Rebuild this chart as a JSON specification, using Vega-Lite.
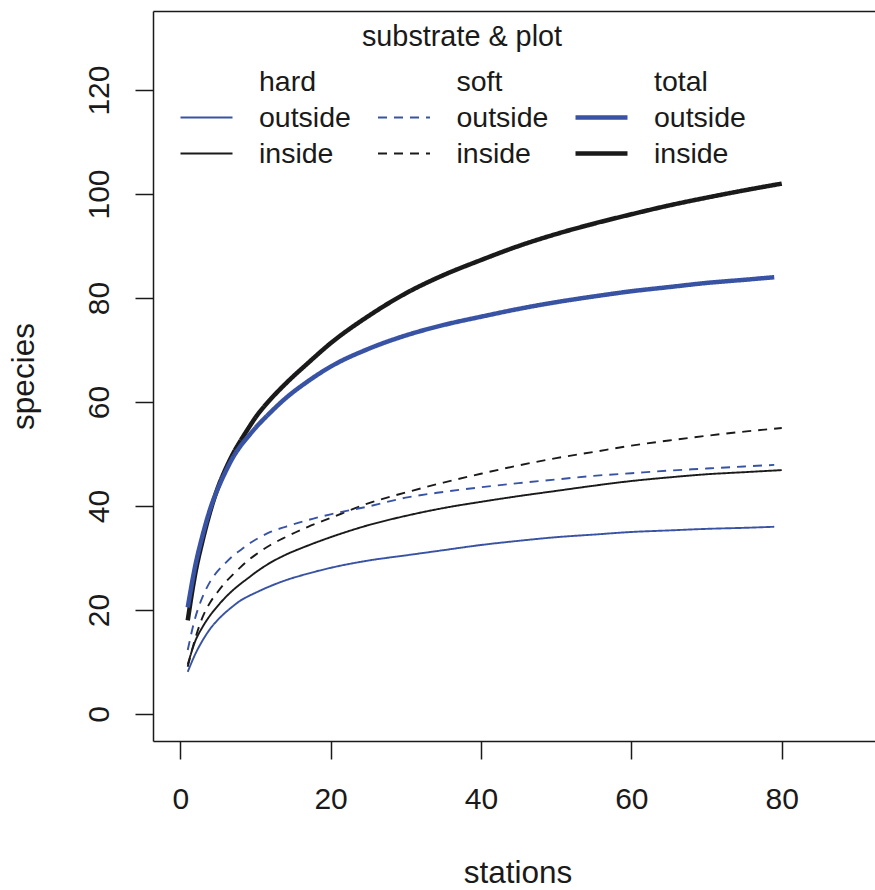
{
 "$schema": "https://vega.github.io/schema/vega-lite/v6.json",
 "width": 722,
 "height": 730,
 "autosize": {"type": "none"},
 "padding": {"left": 153, "top": 11, "right": 0, "bottom": 149},
 "background": "white",
 "config": {
  "view": {"stroke": null},
  "font": "Liberation Sans",
  "legend": {
   "orient": "none", "legendX": 25, "legendY": 12, "columns": 3, "columnPadding": 24.5, "rowPadding": 0,
   "clipHeight": 35.5, "symbolSize": 2704, "symbolType": "stroke", "labelOffset": 24,
   "labelFontSize": 28.5, "labelFont": "Liberation Sans", "labelColor": "#1a1a1a", "labelLimit": 0,
   "titleFontSize": 28.8, "titleFont": "Liberation Sans", "titleFontWeight": "normal", "titleColor": "#1a1a1a",
   "titleAnchor": "middle", "titlePadding": 12, "padding": 0, "titleLimit": 0
  }
 },
 "data": {"values": [
  {"stations":1,"species":18,"series":"total inside"},{"stations":2,"species":27,"series":"total inside"},{"stations":3,"species":33.5,"series":"total inside"},{"stations":4,"species":39,"series":"total inside"},{"stations":5,"species":43.5,"series":"total inside"},{"stations":6,"species":47,"series":"total inside"},{"stations":7,"species":50,"series":"total inside"},{"stations":8,"species":52.5,"series":"total inside"},{"stations":9,"species":54.8,"series":"total inside"},{"stations":10,"species":57,"series":"total inside"},{"stations":12,"species":60.5,"series":"total inside"},{"stations":14,"species":63.5,"series":"total inside"},{"stations":17,"species":67.5,"series":"total inside"},{"stations":20,"species":71.3,"series":"total inside"},{"stations":25,"species":76.5,"series":"total inside"},{"stations":30,"species":80.9,"series":"total inside"},{"stations":35,"species":84.4,"series":"total inside"},{"stations":40,"species":87.3,"series":"total inside"},{"stations":45,"species":90,"series":"total inside"},{"stations":50,"species":92.3,"series":"total inside"},{"stations":55,"species":94.3,"series":"total inside"},{"stations":60,"species":96.1,"series":"total inside"},{"stations":65,"species":97.8,"series":"total inside"},{"stations":70,"species":99.3,"series":"total inside"},{"stations":75,"species":100.7,"series":"total inside"},{"stations":80,"species":102,"series":"total inside"},
  {"stations":1,"species":20.5,"series":"total outside"},{"stations":2,"species":28.5,"series":"total outside"},{"stations":3,"species":34.5,"series":"total outside"},{"stations":4,"species":39.5,"series":"total outside"},{"stations":5,"species":43.3,"series":"total outside"},{"stations":6,"species":46.5,"series":"total outside"},{"stations":7,"species":49.3,"series":"total outside"},{"stations":8,"species":51.5,"series":"total outside"},{"stations":9,"species":53.3,"series":"total outside"},{"stations":10,"species":55,"series":"total outside"},{"stations":12,"species":58,"series":"total outside"},{"stations":14,"species":60.7,"series":"total outside"},{"stations":17,"species":64,"series":"total outside"},{"stations":20,"species":66.8,"series":"total outside"},{"stations":25,"species":70.2,"series":"total outside"},{"stations":30,"species":72.8,"series":"total outside"},{"stations":35,"species":74.8,"series":"total outside"},{"stations":40,"species":76.4,"series":"total outside"},{"stations":45,"species":77.9,"series":"total outside"},{"stations":50,"species":79.2,"series":"total outside"},{"stations":55,"species":80.3,"series":"total outside"},{"stations":60,"species":81.3,"series":"total outside"},{"stations":65,"species":82.1,"series":"total outside"},{"stations":70,"species":82.9,"series":"total outside"},{"stations":75,"species":83.5,"series":"total outside"},{"stations":79,"species":84,"series":"total outside"},
  {"stations":1,"species":9.1,"series":"soft inside"},{"stations":2,"species":14.5,"series":"soft inside"},{"stations":3,"species":18.7,"series":"soft inside"},{"stations":4,"species":21.5,"series":"soft inside"},{"stations":5,"species":23.5,"series":"soft inside"},{"stations":6,"species":25.3,"series":"soft inside"},{"stations":7,"species":26.8,"series":"soft inside"},{"stations":8,"species":28.2,"series":"soft inside"},{"stations":9,"species":29.5,"series":"soft inside"},{"stations":10,"species":30.6,"series":"soft inside"},{"stations":12,"species":32.5,"series":"soft inside"},{"stations":14,"species":34,"series":"soft inside"},{"stations":17,"species":36,"series":"soft inside"},{"stations":20,"species":37.7,"series":"soft inside"},{"stations":25,"species":40.5,"series":"soft inside"},{"stations":30,"species":42.6,"series":"soft inside"},{"stations":35,"species":44.5,"series":"soft inside"},{"stations":40,"species":46.2,"series":"soft inside"},{"stations":45,"species":47.8,"series":"soft inside"},{"stations":50,"species":49.2,"series":"soft inside"},{"stations":55,"species":50.4,"series":"soft inside"},{"stations":60,"species":51.6,"series":"soft inside"},{"stations":65,"species":52.6,"series":"soft inside"},{"stations":70,"species":53.5,"series":"soft inside"},{"stations":75,"species":54.3,"series":"soft inside"},{"stations":80,"species":55,"series":"soft inside"},
  {"stations":1,"species":12.3,"series":"soft outside"},{"stations":2,"species":18.5,"series":"soft outside"},{"stations":3,"species":22.6,"series":"soft outside"},{"stations":4,"species":25.5,"series":"soft outside"},{"stations":5,"species":27.5,"series":"soft outside"},{"stations":6,"species":29,"series":"soft outside"},{"stations":7,"species":30.4,"series":"soft outside"},{"stations":8,"species":31.5,"series":"soft outside"},{"stations":9,"species":32.6,"series":"soft outside"},{"stations":10,"species":33.5,"series":"soft outside"},{"stations":12,"species":35,"series":"soft outside"},{"stations":14,"species":36,"series":"soft outside"},{"stations":17,"species":37.3,"series":"soft outside"},{"stations":20,"species":38.4,"series":"soft outside"},{"stations":25,"species":39.9,"series":"soft outside"},{"stations":30,"species":41.6,"series":"soft outside"},{"stations":35,"species":42.7,"series":"soft outside"},{"stations":40,"species":43.6,"series":"soft outside"},{"stations":45,"species":44.4,"series":"soft outside"},{"stations":50,"species":45.1,"series":"soft outside"},{"stations":55,"species":45.8,"series":"soft outside"},{"stations":60,"species":46.3,"series":"soft outside"},{"stations":65,"species":46.8,"series":"soft outside"},{"stations":70,"species":47.2,"series":"soft outside"},{"stations":75,"species":47.6,"series":"soft outside"},{"stations":79,"species":47.9,"series":"soft outside"},
  {"stations":1,"species":9.5,"series":"hard inside"},{"stations":2,"species":14,"series":"hard inside"},{"stations":3,"species":16.8,"series":"hard inside"},{"stations":4,"species":19,"series":"hard inside"},{"stations":5,"species":20.8,"series":"hard inside"},{"stations":6,"species":22.4,"series":"hard inside"},{"stations":7,"species":23.8,"series":"hard inside"},{"stations":8,"species":25,"series":"hard inside"},{"stations":9,"species":26.1,"series":"hard inside"},{"stations":10,"species":27.2,"series":"hard inside"},{"stations":12,"species":29.1,"series":"hard inside"},{"stations":14,"species":30.6,"series":"hard inside"},{"stations":17,"species":32.4,"series":"hard inside"},{"stations":20,"species":34,"series":"hard inside"},{"stations":25,"species":36.3,"series":"hard inside"},{"stations":30,"species":38.1,"series":"hard inside"},{"stations":35,"species":39.6,"series":"hard inside"},{"stations":40,"species":40.8,"series":"hard inside"},{"stations":45,"species":41.9,"series":"hard inside"},{"stations":50,"species":42.9,"series":"hard inside"},{"stations":55,"species":43.9,"series":"hard inside"},{"stations":60,"species":44.8,"series":"hard inside"},{"stations":65,"species":45.5,"series":"hard inside"},{"stations":70,"species":46.1,"series":"hard inside"},{"stations":75,"species":46.5,"series":"hard inside"},{"stations":80,"species":46.9,"series":"hard inside"},
  {"stations":1,"species":8.1,"series":"hard outside"},{"stations":2,"species":11.5,"series":"hard outside"},{"stations":3,"species":14.2,"series":"hard outside"},{"stations":4,"species":16.4,"series":"hard outside"},{"stations":5,"species":18.1,"series":"hard outside"},{"stations":6,"species":19.5,"series":"hard outside"},{"stations":7,"species":20.7,"series":"hard outside"},{"stations":8,"species":21.8,"series":"hard outside"},{"stations":9,"species":22.6,"series":"hard outside"},{"stations":10,"species":23.3,"series":"hard outside"},{"stations":12,"species":24.6,"series":"hard outside"},{"stations":14,"species":25.7,"series":"hard outside"},{"stations":17,"species":27,"series":"hard outside"},{"stations":20,"species":28.1,"series":"hard outside"},{"stations":25,"species":29.5,"series":"hard outside"},{"stations":30,"species":30.5,"series":"hard outside"},{"stations":35,"species":31.5,"series":"hard outside"},{"stations":40,"species":32.5,"series":"hard outside"},{"stations":45,"species":33.3,"series":"hard outside"},{"stations":50,"species":34,"series":"hard outside"},{"stations":55,"species":34.5,"series":"hard outside"},{"stations":60,"species":35,"series":"hard outside"},{"stations":65,"species":35.3,"series":"hard outside"},{"stations":70,"species":35.6,"series":"hard outside"},{"stations":75,"species":35.8,"series":"hard outside"},{"stations":79,"species":36,"series":"hard outside"}
 ]},
 "layer": [
  {
   "mark": {"type": "line", "interpolate": "monotone", "strokeCap": "butt"},
   "encoding": {
    "x": {"field": "stations", "type": "quantitative",
     "scale": {"domain": [-3.62, 92.4], "nice": false, "zero": false},
     "axis": {"orient": "bottom", "values": [0, 20, 40, 60, 80], "grid": false, "tickSize": 18, "tickWidth": 1.5, "tickColor": "#1a1a1a",
      "domainColor": "#1a1a1a", "domainWidth": 1.5, "labelFontSize": 30, "labelColor": "#1a1a1a", "labelPadding": 25,
      "labelFlush": false, "labelOverlap": false, "title": "stations", "titleFontSize": 31.5, "titleFontWeight": "normal",
      "titleColor": "#1a1a1a", "titleX": 364.5, "titleY": 141, "titleBaseline": "alphabetic", "titleAlign": "center"}},
    "y": {"field": "species", "type": "quantitative",
     "scale": {"domain": [-5.2, 135.2], "nice": false, "zero": false},
     "axis": {"values": [0, 20, 40, 60, 80, 100, 120], "grid": false, "tickSize": 18, "tickWidth": 1.5, "tickColor": "#1a1a1a",
      "domainColor": "#1a1a1a", "domainWidth": 1.5, "labelFontSize": 30, "labelColor": "#1a1a1a", "labelPadding": 27,
      "labelAngle": 270, "labelAlign": "center", "labelBaseline": "alphabetic",
      "labelFlush": false, "labelOverlap": false, "title": "species", "titleFontSize": 31.5, "titleFontWeight": "normal",
      "titleColor": "#1a1a1a", "titleAngle": 270, "titleX": -120, "titleY": 365, "titleBaseline": "alphabetic", "titleAlign": "center"}},
    "color": {"field": "series", "type": "nominal", "title": "substrate & plot",
     "scale": {"domain": ["hard", "hard outside", "hard inside", "soft", "soft outside", "soft inside", "total", "total outside", "total inside"],
      "range": ["transparent", "#3953a4", "#1a1a1a", "transparent", "#3953a4", "#1a1a1a", "transparent", "#3953a4", "#1a1a1a"]},
     "legend": {"labelExpr": "slice(datum.value, indexof(datum.value, ' ') + 1)"}},
    "strokeDash": {"field": "series", "type": "nominal", "title": "substrate & plot",
     "scale": {"type": "ordinal", "domain": ["hard", "hard outside", "hard inside", "soft", "soft outside", "soft inside", "total", "total outside", "total inside"],
      "range": [[1, 0], [1, 0], [1, 0], [1, 0], [9, 7], [9, 7], [1, 0], [1, 0], [1, 0]]},
     "legend": {"labelExpr": "slice(datum.value, indexof(datum.value, ' ') + 1)"}},
    "strokeWidth": {"field": "series", "type": "nominal", "title": "substrate & plot",
     "scale": {"type": "ordinal", "domain": ["hard", "hard outside", "hard inside", "soft", "soft outside", "soft inside", "total", "total outside", "total inside"],
      "range": [0, 1.9, 1.9, 0, 1.9, 1.9, 0, 4.5, 4.5]},
     "legend": {"labelExpr": "slice(datum.value, indexof(datum.value, ' ') + 1)"}}
   }
  },
  {
   "data": {"values": [{"edge": 0}]},
   "mark": {"type": "rule", "opacity": 0},
   "encoding": {
    "x": {"field": "edge", "type": "quantitative",
     "axis": {"orient": "top", "ticks": false, "labels": false, "title": null, "grid": false, "domainColor": "#1a1a1a", "domainWidth": 1.5}}
   }
  }
 ],
 "resolve": {"axis": {"x": "independent"}}
}
